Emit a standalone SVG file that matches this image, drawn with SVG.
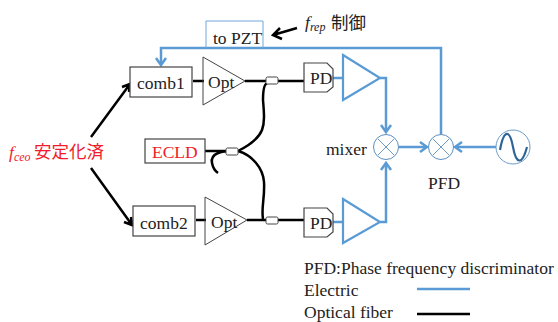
<svg xmlns="http://www.w3.org/2000/svg" width="558" height="322" viewBox="0 0 558 322">
<style>
text{font-family:"Liberation Serif",serif;font-size:17.5px;fill:#222}
.cjk{font-family:"Noto Sans CJK JP","Liberation Sans",sans-serif}
.box{fill:#fff;stroke:#444;stroke-width:1.2}
.tri{fill:none;stroke:#444;stroke-width:1}
.btri{fill:#fff;stroke:#5b9bd5;stroke-width:2.2}
.e{fill:none;stroke:#5b9bd5;stroke-width:2.5}
.f{fill:none;stroke:#000;stroke-width:2.5}
.cp{fill:#fff;stroke:#444;stroke-width:1}
.circ{fill:#fff;stroke:#5b8fc0;stroke-width:1}
.x{stroke:#5b8fc0;stroke-width:.9;fill:none}
.ah{fill:none;stroke:#5b9bd5;stroke-width:2.5}
.ak{fill:none;stroke:#000;stroke-width:2.5}
.red{fill:#f01c2c}
</style>
<g id="connectors">
<path class="e" d="M161 65V48H441V134"/>
<path class="ah" d="M156 58L161 65L166 58"/>
<path class="e" d="M380 78H386V132"/>
<path class="ah" d="M381 125L386 132L391 125"/>
<path class="e" d="M380 222H386V163"/>
<path class="ah" d="M381 170L386 163L391 170"/>
<path class="e" d="M399 147H427"/>
<path class="ah" d="M420 142L427 147L420 152"/>
<path class="e" d="M496 147H455"/>
<path class="ah" d="M462 142L455 147L462 152"/>
<path class="e" d="M333 78H343M333 222H343"/>
<path class="f" d="M193 81H204M196 220H206M245 81H304M247 220H304"/>
<path class="f" d="M205 151H232"/>
<path class="f" d="M268 83C264 83 263 90 263 100C264 112 265 122 262 130C258 140 248 146 238 151"/>
<path class="f" d="M232 151C222 151 210 153 212 163C213 168 215 171 218 173"/>
<path class="f" d="M238 151C252 155 263 168 264 182C265 198 261 208 263 219"/>
<path class="ak" d="M91 137L130 84M122 87L130 84L129 92"/>
<path class="ak" d="M91 168L132 225M124 222L132 225L131 217"/>
<path class="ak" d="M297 28L273 35M280 28L273 35L282 39"/>
</g>
<g id="to-pzt"><path d="M206 48V21H263V48" fill="none" stroke="#6ea6dc" stroke-width="1"/><text x="213" y="44">to PZT</text></g>
<g id="frep"><text x="305" y="28" font-style="italic" font-size="18">f<tspan font-size="12" dy="3">rep</tspan></text><text class="cjk" x="331" y="29" font-size="15">制御</text></g>
<g id="fceo"><text class="red" x="9" y="158" font-style="italic" font-size="18">f<tspan font-size="12" dy="3">ceo</tspan></text><text class="cjk red" x="34" y="158" font-size="17.5">安定化済</text></g>
<g id="comb1"><rect class="box" x="130" y="67" width="62" height="30"/><text x="137" y="89">comb1</text></g>
<g id="comb2"><rect class="box" x="133" y="206" width="62" height="30"/><text x="140" y="229">comb2</text></g>
<g id="ecld"><rect class="box" x="145" y="139" width="60" height="24"/><text class="red" x="152" y="158">ECLD</text></g>
<g id="opt1"><path class="tri" d="M203 57L245 81L203 105Z"/><text x="208" y="88">Opt</text></g>
<g id="opt2"><path class="tri" d="M205 197L247 220L205 245Z"/><text x="211" y="228">Opt</text></g>
<g id="coupler1"><rect class="cp" x="266" y="77" width="12" height="7" rx="1.5"/></g>
<g id="coupler2"><rect class="cp" x="226" y="148" width="12" height="7" rx="1.5"/></g>
<g id="coupler3"><rect class="cp" x="266" y="217" width="12" height="7" rx="1.5"/></g>
<g id="pd1"><path class="box" d="M304 63H327L333 69V87L327 92H304Z"/><text x="310" y="84">PD</text></g>
<g id="pd2"><path class="box" d="M304 208H327L333 214V232L327 237H304Z"/><text x="310" y="229">PD</text></g>
<g id="amp1"><path class="btri" d="M343 55L380 78L343 100Z"/></g>
<g id="amp2"><path class="btri" d="M343 199L380 222L343 243Z"/></g>
<g id="mixer"><circle class="circ" cx="386" cy="147" r="12.5"/><path class="x" d="M378 139L394 155M394 139L378 155"/><text x="326" y="155">mixer</text></g>
<g id="pfd"><circle class="circ" cx="441" cy="147" r="12.5"/><path class="x" d="M433 139L449 155M449 139L433 155"/><text x="428" y="189">PFD</text></g>
<g id="osc"><circle cx="513" cy="147" r="17" fill="#fff" stroke="#6a9bc8" stroke-width="1"/><path d="M500 150C504 128 510 130 513 147C516 164 522 166 527 147" fill="none" stroke="#2f6496" stroke-width="2.2"/></g>
<g id="legend"><text x="304" y="274">PFD:Phase frequency discriminator</text><text x="304" y="296">Electric</text><text x="304" y="318">Optical fiber</text><path class="e" d="M417 289H470"/><path class="f" d="M417 314H470"/></g>
</svg>
